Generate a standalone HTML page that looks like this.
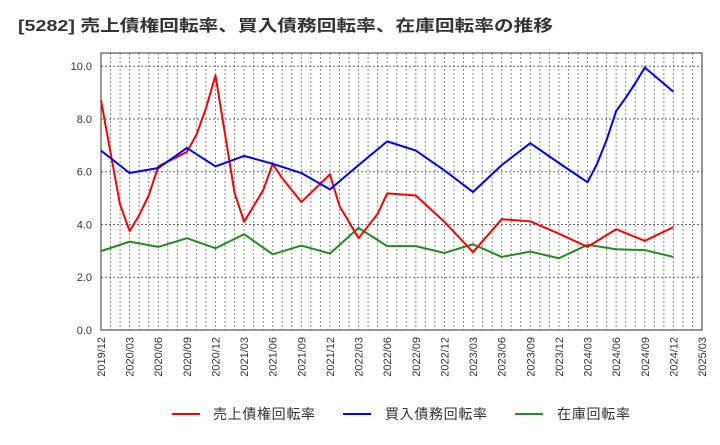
<!DOCTYPE html>
<html><head><meta charset="utf-8"><style>
body{margin:0;background:#fff;font-family:"Liberation Sans","Noto Sans CJK JP",sans-serif;}
svg text{font-family:"Liberation Sans","Noto Sans CJK JP",sans-serif;}
</style></head><body>
<svg id="c" width="720" height="440" xmlns="http://www.w3.org/2000/svg">
<text x="18" y="31" font-size="16" font-weight="bold" fill="#333" textLength="535" lengthAdjust="spacingAndGlyphs">[5282]  売上債権回転率、買入債務回転率、在庫回転率の推移</text>
<g id="grid"></g><g id="axes"></g><g id="series"></g>
<g>
<g><line x1="172" y1="414" x2="200" y2="414" stroke="#f00" stroke-width="2"/><text x="213" y="419" font-size="14" fill="#333" textLength="102">売上債権回転率</text></g>
<g><line x1="343" y1="414" x2="371" y2="414" stroke="#00f" stroke-width="2"/><text x="385" y="419" font-size="14" fill="#333" textLength="102">買入債務回転率</text></g>
<g><line x1="515" y1="414" x2="543" y2="414" stroke="#228b22" stroke-width="2"/><text x="557" y="419" font-size="14" fill="#333" textLength="73">在庫回転率</text></g>
</g>
</svg>
<script>
const xTickLabels=["2019/12","2020/03","2020/06","2020/09","2020/12","2021/03","2021/06","2021/09","2021/12","2022/03","2022/06","2022/09","2022/12","2023/03","2023/06","2023/09","2023/12","2024/03","2024/06","2024/09","2024/12","2025/03"];
const yTicks=[0,2,4,6,8,10];
const recvMonths=[0,2,3,4,5,6,9,10,11,12,14,15,17,18,19,21,24,25,27,29,30,33,36,39,42,45,48,51,54,57,60];
const recvValues=[8.7,4.75,3.75,4.35,5.1,6.2,6.75,7.4,8.4,9.65,5.2,4.1,5.3,6.3,5.75,4.85,5.9,4.7,3.48,4.4,5.18,5.1,4.1,2.95,4.2,4.12,3.65,3.15,3.82,3.38,3.9];
const payMonths=[0,3,6,9,12,15,18,21,24,27,30,33,36,39,42,45,48,51,52,53,54,55,56,57,60];
const payValues=[6.8,5.95,6.14,6.9,6.2,6.6,6.3,5.95,5.33,6.25,7.15,6.8,6.05,5.23,6.25,7.08,6.33,5.6,6.3,7.2,8.3,8.8,9.35,9.95,9.03];
const invMonths=[0,3,6,9,12,15,18,21,24,27,30,33,36,39,42,45,48,51,54,57,60];
const invValues=[2.99,3.35,3.15,3.48,3.1,3.63,2.87,3.2,2.9,3.87,3.18,3.18,2.92,3.25,2.77,2.97,2.72,3.23,3.06,3.03,2.77];
const L=101,R=702,T=53,B=330,NM=63,YMAX=10.5;
const NS="http://www.w3.org/2000/svg";
function xs(m){return L+(R-L)*m/NM;}
function ys(v){return B-(B-T)*v/YMAX;}
function mk(tag,at,parent){const e=document.createElementNS(NS,tag);for(const k in at)e.setAttribute(k,at[k]);parent.appendChild(e);return e;}
const grid=document.getElementById('grid'),axes=document.getElementById('axes'),ser=document.getElementById('series');
for(let m=1;m<NM;m++){const g=mk('line',{x1:xs(m),x2:xs(m),y1:T,y2:B,stroke:'#888','stroke-width':1,'stroke-dasharray':'2,2'},grid);

}
yTicks.forEach(v=>{if(v===0)return;const g=mk('line',{x1:L,x2:R,y1:ys(v),y2:ys(v),stroke:'#666','stroke-width':1,'stroke-dasharray':'2,2'},grid);

});
const fr=mk('rect',{x:L,y:T,width:R-L,height:B-T,fill:'none',stroke:'#333','stroke-width':1},axes);


yTicks.forEach(v=>{const t=mk('text',{x:92,y:ys(v)+4,'text-anchor':'end','font-size':11,fill:'#333'},axes);t.textContent=v.toFixed(1);

});
xTickLabels.forEach((s,i)=>{const x=xs(i*3);const t=mk('text',{x:0,y:0,'text-anchor':'end','font-size':11,fill:'#333',transform:`translate(${x+4},${B+7}) rotate(-90)`},axes);t.textContent=s;

});
function line(ms,vs,col,name){const p=mk('polyline',{points:ms.map((m,i)=>xs(m)+','+ys(vs[i])).join(' '),fill:'none',stroke:col,'stroke-width':2,'stroke-linejoin':'round'},ser);

}
line(invMonths,invValues,'#228b22','inventory-turnover-line');
line(recvMonths,recvValues,'#f00','receivables-turnover-line');
line(payMonths,payValues,'#00f','payables-turnover-line');
</script>
</body></html>
